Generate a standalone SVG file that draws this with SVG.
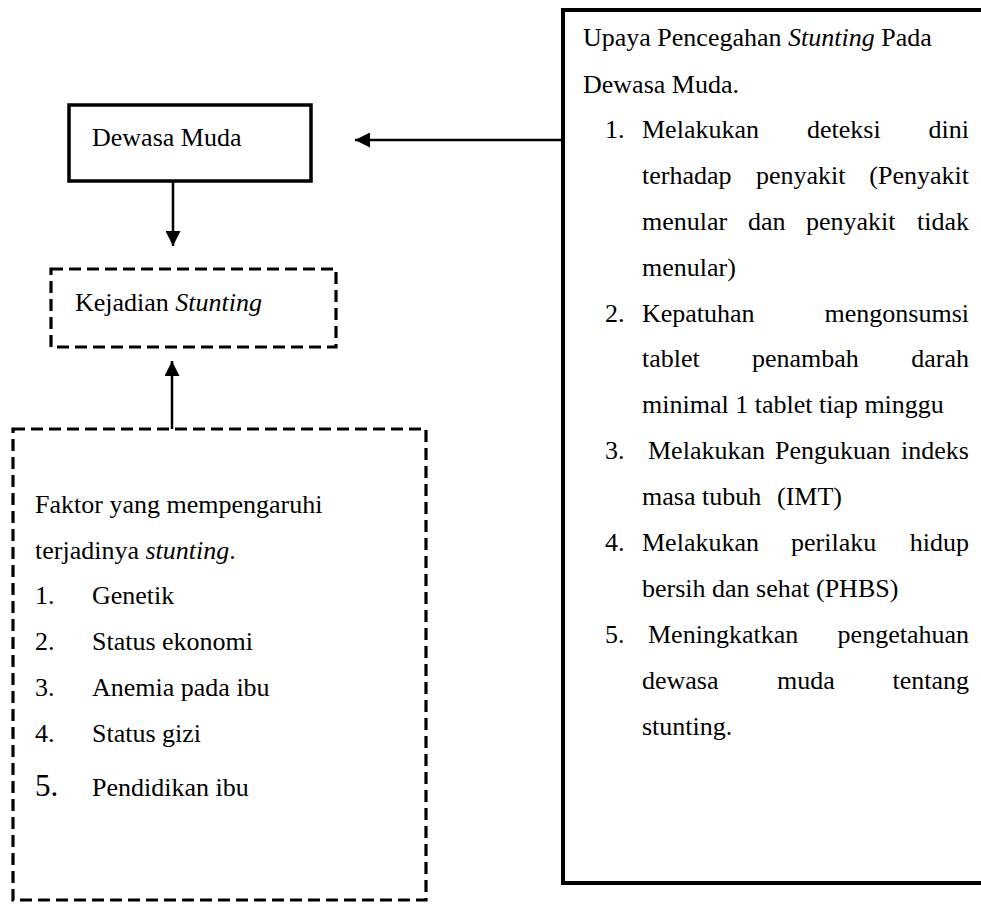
<svg xmlns="http://www.w3.org/2000/svg" width="981" height="904" viewBox="0 0 981 904" font-family="'Liberation Serif', 'Times New Roman', 'DejaVu Serif', serif">
<defs>
<style>
text{font-family:'Liberation Serif','Times New Roman','DejaVu Serif',serif;font-size:26px;fill:#000}
.it{font-style:italic}
.solid{fill:#fff;stroke:#000;stroke-width:3.5}
.dash{fill:#fff;stroke:#000;stroke-width:3.2;stroke-dasharray:12 6}
.conn{stroke:#000;stroke-width:2.5;fill:none}
.e{text-anchor:end}
</style>
<marker id="ah" viewBox="0 0 10 10" refX="10" refY="5" markerWidth="6" markerHeight="6" markerUnits="strokeWidth" orient="auto">
<path d="M0,0 L10,5 L0,10 z" fill="#000"/>
</marker>
</defs>
<rect width="981" height="904" fill="#fff"/>

<g id="connectors">
<line class="conn" x1="563" y1="140" x2="355" y2="140" marker-end="url(#ah)"/>
<line class="conn" x1="173" y1="181" x2="173" y2="246" marker-end="url(#ah)"/>
<line class="conn" x1="172" y1="429" x2="172" y2="361" marker-end="url(#ah)"/>
</g>

<g id="dewasa-muda">
<rect class="solid" x="69" y="105" width="242" height="76"/>
<text x="92" y="146">Dewasa Muda</text>
</g>

<g id="kejadian-stunting">
<rect class="dash" x="51" y="269" width="285" height="78"/>
<text x="75" y="311">Kejadian <tspan class="it">Stunting</tspan></text>
</g>

<g id="faktor">
<rect class="dash" x="13" y="429" width="413" height="471"/>
<text x="35" y="513">Faktor yang mempengaruhi</text>
<text x="35" y="559">terjadinya <tspan class="it">stunting</tspan>.</text>
<text x="35" y="604">1.</text><text x="92" y="604">Genetik</text>
<text x="35" y="650">2.</text><text x="92" y="650">Status ekonomi</text>
<text x="35" y="696">3.</text><text x="92" y="696">Anemia pada ibu</text>
<text x="35" y="742">4.</text><text x="92" y="742">Status gizi</text>
<text x="35" y="796" style="font-size:31px">5.</text><text x="92" y="796">Pendidikan ibu</text>
</g>

<g id="upaya">
<rect x="563" y="10" width="440" height="873" fill="#fff" stroke="#000" stroke-width="4"/>
<text x="583" y="46">Upaya Pencegahan <tspan class="it">Stunting</tspan> Pada</text>
<text x="583" y="93">Dewasa Muda.</text>

<text x="605" y="138">1.</text>
<text x="642" y="138">Melakukan</text><text x="807" y="138">deteksi</text><text class="e" x="969" y="138">dini</text>
<text x="642" y="184">terhadap</text><text x="756" y="184">penyakit</text><text class="e" x="969" y="184">(Penyakit</text>
<text x="642" y="230">menular</text><text x="748" y="230">dan</text><text x="806" y="230">penyakit</text><text class="e" x="969" y="230">tidak</text>
<text x="642" y="276">menular)</text>

<text x="605" y="322">2.</text>
<text x="642" y="322">Kepatuhan</text><text class="e" x="969" y="322">mengonsumsi</text>
<text x="642" y="367">tablet</text><text x="752" y="367">penambah</text><text class="e" x="969" y="367">darah</text>
<text x="642" y="413">minimal 1 tablet tiap minggu</text>

<text x="605" y="459">3.</text>
<text x="648" y="459">Melakukan</text><text x="775" y="459">Pengukuan</text><text class="e" x="969" y="459">indeks</text>
<text x="642" y="505">masa tubuh</text><text x="777" y="505">(IMT)</text>

<text x="605" y="551">4.</text>
<text x="642" y="551">Melakukan</text><text x="791" y="551">perilaku</text><text class="e" x="969" y="551">hidup</text>
<text x="642" y="597">bersih dan sehat (PHBS)</text>

<text x="605" y="643">5.</text>
<text x="648" y="643">Meningkatkan</text><text class="e" x="969" y="643">pengetahuan</text>
<text x="642" y="689">dewasa</text><text x="777" y="689">muda</text><text class="e" x="969" y="689">tentang</text>
<text x="642" y="735">stunting.</text>
</g>
</svg>
